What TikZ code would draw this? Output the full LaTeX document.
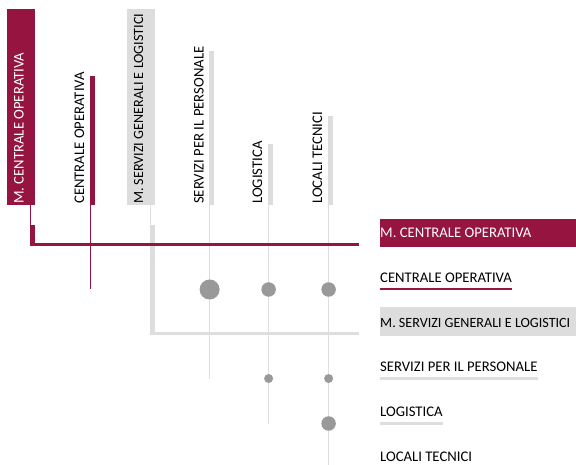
\documentclass[tikz,border=0pt]{standalone}
\usepackage{fontspec}
\setmainfont{Carlito}
\definecolor{crimson}{RGB}{150,20,64}
\definecolor{boxgray}{RGB}{221,221,221}
\definecolor{linegray}{RGB}{222,222,222}
\definecolor{dotgray}{RGB}{153,153,153}
\tikzset{
  lbl/.style={inner sep=0pt, font=\fontsize{14.7}{17}\selectfont},
  longlbl/.style={font=\fontsize{14.1}{17}\selectfont},
  coltext/.style={lbl, rotate=90, anchor=base west},
  rowtext/.style={lbl, anchor=base west},
  block/.style={inner sep=0pt, outer sep=0pt, anchor=south west},
  stem/.style={line width=1.2pt},
  rule/.style={line width=3pt},
  uline/.style={line width=2.2pt},
  dot/.style={circle, fill=dotgray, inner sep=0pt, minimum size=#1},
}

\begin{document}
\begin{tikzpicture}[x=1pt,y=-1pt]
\useasboundingbox (0,0) rectangle (576,465);

% row levels
\coordinate (lv1) at (0,244.5);
\coordinate (lv2) at (0,289.5);
\coordinate (lv3) at (0,333.5);
\coordinate (lv4) at (0,378.5);
\coordinate (lv5) at (0,423.5);
\coordinate (lv6) at (0,465);
\coordinate (ruleend) at (359,0);

% column heads
\node[block, fill=crimson, minimum width=28, minimum height=196] (mcobox) at (7,205) {};
\node[coltext, text=white] (mcocol) at (23.5,204) {M. CENTRALE OPERATIVA};
\node[block, fill=crimson, minimum width=5, minimum height=129] (cobar) at (90,205) {};
\node[coltext] (cocol) at (84,204) {CENTRALE OPERATIVA};
\node[block, fill=boxgray, minimum width=28, minimum height=196] (msgbox) at (127,205) {};
\node[coltext, longlbl] (msgcol) at (143,204) {M. SERVIZI GENERALI E LOGISTICI};
\node[block, fill=boxgray, minimum width=5, minimum height=154] (spbar) at (209,205) {};
\node[coltext] (spcol) at (203.5,204) {SERVIZI PER IL PERSONALE};
\node[block, fill=boxgray, minimum width=5, minimum height=61] (lgbar) at (268,205) {};
\node[coltext] (lgcol) at (262,204) {LOGISTICA};
\node[block, fill=boxgray, minimum width=5, minimum height=89] (ltbar) at (328,205) {};
\node[coltext] (ltcol) at (322,204) {LOCALI TECNICI};

% row heads
\node[block, anchor=north west, fill=crimson, minimum width=196, minimum height=28] (mcorbox) at (380,219) {};
\node[rowtext, text=white] (mcorow) at (380,237.5) {M. CENTRALE OPERATIVA};
\node[rowtext] (corow) at (380,282.5) {CENTRALE OPERATIVA};
\node[block, anchor=north west, fill=boxgray, minimum width=196, minimum height=28] (msgrbox) at (380,307.5) {};
\node[rowtext, longlbl] (msgrow) at (380,327) {M. SERVIZI GENERALI E LOGISTICI};
\node[rowtext] (sprow) at (380,371) {SERVIZI PER IL PERSONALE};
\node[rowtext] (lgrow) at (380,416) {LOGISTICA};
\node[rowtext] (ltrow) at (380,461) {LOCALI TECNICI};

% underlines
\draw[uline, crimson] ([yshift=-6.5pt]corow.base west) -- ([yshift=-6.5pt]corow.base east);
\draw[uline, linegray] ([yshift=-7.5pt]sprow.base west) -- ([yshift=-7.5pt]sprow.base east);
\draw[uline, linegray] ([yshift=-7.5pt]lgrow.base west) -- ([yshift=-7.5pt]lgrow.base east);

% stems
\draw[stem, linegray] ([xshift=.6pt]spbar.south west) coordinate (s4) -- (s4 |- lv4);
\draw[stem, linegray] ([xshift=.6pt]lgbar.south west) coordinate (s5) -- (s5 |- lv5);
\draw[stem, linegray] ([xshift=.6pt]ltbar.south west) coordinate (s6) -- (s6 |- lv6);
\draw[stem, linegray] ([xshift=-4.4pt]msgbox.south east) coordinate (s3) -- (s3 |- lv3);
\fill[boxgray] ([xshift=-5pt,yshift=-20pt]msgbox.south east) rectangle ([yshift=1.5pt]msgbox.south east |- lv3);
\draw[rule, linegray] ([xshift=-.6pt]s3 |- lv3) -- (ruleend |- lv3);
\draw[stem, crimson] ([xshift=.6pt]cobar.south west) coordinate (s2) -- (s2 |- lv2);
\draw[stem, crimson] ([xshift=-4.4pt]mcobox.south east) coordinate (s1) -- (s1 |- lv1);
\fill[crimson] ([xshift=-5pt,yshift=-20pt]mcobox.south east) rectangle (mcobox.south east |- lv1);
\draw[rule, crimson] ([xshift=-.6pt]s1 |- lv1) -- (ruleend |- lv1);

% marks
\node[dot=20pt] (d42) at (s4 |- lv2) {};
\node[dot=14.5pt] (d52) at (s5 |- lv2) {};
\node[dot=14.5pt] (d62) at (s6 |- lv2) {};
\node[dot=9pt] (d54) at (s5 |- lv4) {};
\node[dot=9pt] (d64) at (s6 |- lv4) {};
\node[dot=14.5pt] (d65) at (s6 |- lv5) {};
\end{tikzpicture}
\end{document}
